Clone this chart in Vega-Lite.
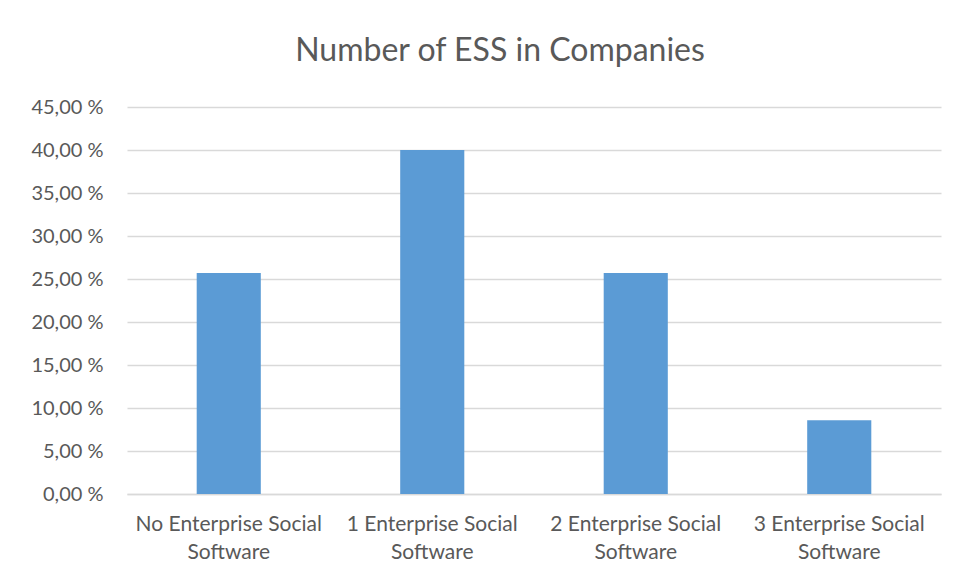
{
  "$schema": "https://vega.github.io/schema/vega-lite/v6.json",
  "autosize": "none",
  "width": 814,
  "height": 387,
  "padding": {"left": 127, "top": 107, "right": 17, "bottom": 86},
  "background": "white",
  "title": {
    "text": "Number of ESS in Companies",
    "font": "Lato",
    "fontSize": 32,
    "fontWeight": "normal",
    "color": "#595959",
    "anchor": "middle",
    "dx": -34,
    "offset": 29,
    "frame": "group"
  },
  "data": {
    "values": [
      {"category": "No Enterprise Social Software", "share": 25.71},
      {"category": "1 Enterprise Social Software", "share": 40.0},
      {"category": "2 Enterprise Social Software", "share": 25.71},
      {"category": "3 Enterprise Social Software", "share": 8.57}
    ]
  },
  "mark": {"type": "bar", "color": "#5B9BD5"},
  "encoding": {
    "x": {
      "field": "category",
      "type": "nominal",
      "sort": null,
      "scale": {"paddingInner": 0.685, "paddingOuter": 0.3425},
      "axis": {
        "title": null,
        "labelAngle": 0,
        "labelExpr": "[replace(datum.value, ' Software', ''), 'Software']",
        "labelFont": "Lato",
        "labelFontSize": 21,
        "labelColor": "#595959",
        "labelLineHeight": 28,
        "labelPadding": 19,
        "labelLimit": 400,
        "labelOverlap": false,
        "ticks": false,
        "domain": true,
        "domainColor": "#D9D9D9",
        "domainWidth": 1.3,
        "grid": false
      }
    },
    "y": {
      "field": "share",
      "type": "quantitative",
      "scale": {"domain": [0, 45], "nice": false},
      "axis": {
        "title": null,
        "values": [0, 5, 10, 15, 20, 25, 30, 35, 40, 45],
        "labelExpr": "replace(format(datum.value, '.2f'), '.', ',') + ' %'",
        "labelFont": "Lato",
        "labelFontSize": 20,
        "labelColor": "#595959",
        "labelPadding": 24,
        "ticks": false,
        "domain": false,
        "grid": true,
        "gridColor": "#D9D9D9",
        "gridWidth": 1.3
      }
    }
  },
  "config": {"view": {"stroke": null}}
}
